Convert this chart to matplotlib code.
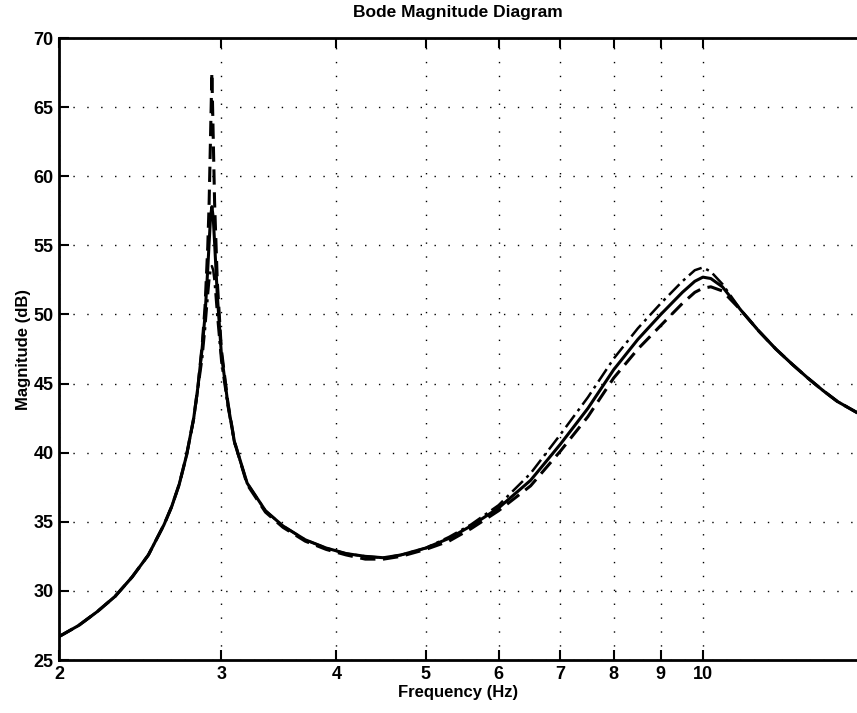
import matplotlib.pyplot as plt

# Frequency points (Hz)
freq = [2.0, 2.1, 2.2, 2.3, 2.4, 2.5, 2.6, 2.65, 2.7, 2.75, 2.8, 2.83, 2.86, 2.88,
        2.9, 2.91, 2.92, 2.93, 2.94, 2.95, 2.97, 3.0, 3.05, 3.1, 3.2, 3.35, 3.5,
        3.7, 3.9, 4.1, 4.3, 4.5, 4.7, 5.0, 5.3, 5.6, 6.0, 6.5, 7.0, 7.5, 8.0, 8.5,
        9.0, 9.5, 9.8, 10.0, 10.2, 10.5, 11.0, 11.5, 12.0, 12.5, 13.0, 13.5, 14.0, 14.7]

mag_solid = [26.7, 27.5, 28.5, 29.6, 31.0, 32.6, 34.8, 36.1, 37.7, 39.8, 42.5, 44.8, 47.6, 49.9,
             53.3, 55.2, 57.0, 57.8, 57.0, 55.2, 51.4, 47.2, 43.5, 40.8, 37.8, 35.8, 34.7,
             33.7, 33.1, 32.7, 32.5, 32.4, 32.6, 33.1, 33.8, 34.7, 36.0, 38.0, 40.6, 43.2, 46.0, 48.2,
             50.0, 51.6, 52.4, 52.7, 52.6, 52.0, 50.3, 48.8, 47.5, 46.4, 45.4, 44.5, 43.7, 42.9]

mag_dashed = [26.7, 27.5, 28.5, 29.6, 31.0, 32.6, 34.8, 36.1, 37.7, 39.8, 42.5, 44.8, 47.8, 50.5,
              54.9, 58.1, 62.8, 67.5, 62.8, 58.1, 52.4, 47.5, 43.6, 40.8, 37.7, 35.7, 34.6,
              33.6, 33.0, 32.6, 32.3, 32.3, 32.5, 33.0, 33.6, 34.5, 35.8, 37.6, 40.1, 42.6, 45.4, 47.5,
              49.2, 50.8, 51.6, 51.9, 52.0, 51.7, 50.3, 48.8, 47.5, 46.4, 45.4, 44.5, 43.7, 42.9]

mag_dashdot = [26.7, 27.5, 28.5, 29.6, 31.0, 32.6, 34.8, 36.1, 37.7, 39.8, 42.4, 44.6, 46.8, 48.9,
               51.3, 52.4, 53.2, 53.5, 53.2, 52.4, 49.9, 46.6, 43.3, 40.7, 37.8, 35.8, 34.7,
               33.7, 33.1, 32.7, 32.5, 32.4, 32.6, 33.1, 33.9, 34.8, 36.2, 38.5, 41.3, 44.0, 46.8, 49.0,
               50.8, 52.4, 53.2, 53.4, 53.1, 52.2, 50.3, 48.8, 47.5, 46.4, 45.4, 44.5, 43.7, 42.9]

xticks = [2, 3, 4, 5, 6, 7, 8, 9, 10]
yticks = [25, 30, 35, 40, 45, 50, 55, 60, 65, 70]

plt.rcParams['font.family'] = ['Liberation Sans', 'DejaVu Sans']

fig = plt.figure(figsize=(8.57, 7.13), dpi=100)
ax = fig.add_axes([0.069, 0.0743, 0.931, 0.8724])

ax.plot(freq, mag_solid, color='black', linewidth=2.2, linestyle='-')
ax.plot(freq, mag_dashed, color='black', linewidth=2.2, linestyle=(0, (5, 2.5)))
ax.plot(freq, mag_dashdot, color='black', linewidth=1.8, linestyle=(0, (6, 2, 1.2, 2)))

ax.set_xscale('log')
ax.set_xlim(2, 14.7)
ax.set_ylim(25, 70)
ax.set_xticks(xticks)
ax.set_xticklabels([str(t) for t in xticks])
ax.xaxis.set_minor_locator(plt.NullLocator())
ax.set_yticks(yticks)

ax.grid(True, which='major', color='black', linestyle=(0, (1, 9)), linewidth=1.0)
ax.tick_params(direction='in', length=7, width=1.5, top=True, right=False,
               labelsize=13, pad=4)
for lab in ax.get_xticklabels() + ax.get_yticklabels():
    lab.set_fontweight('bold')
for side in ['left', 'bottom', 'top']:
    ax.spines[side].set_linewidth(2)
ax.spines['right'].set_visible(False)

ax.set_xlabel('Frequency (Hz)', fontsize=12, fontweight='bold', labelpad=2)
ax.set_ylabel('Magnitude (dB)', fontsize=12, fontweight='bold', labelpad=2)
ax.set_title('Bode Magnitude Diagram', fontsize=12.5, fontweight='bold', pad=15)

fig.savefig('out.png', dpi=100)
